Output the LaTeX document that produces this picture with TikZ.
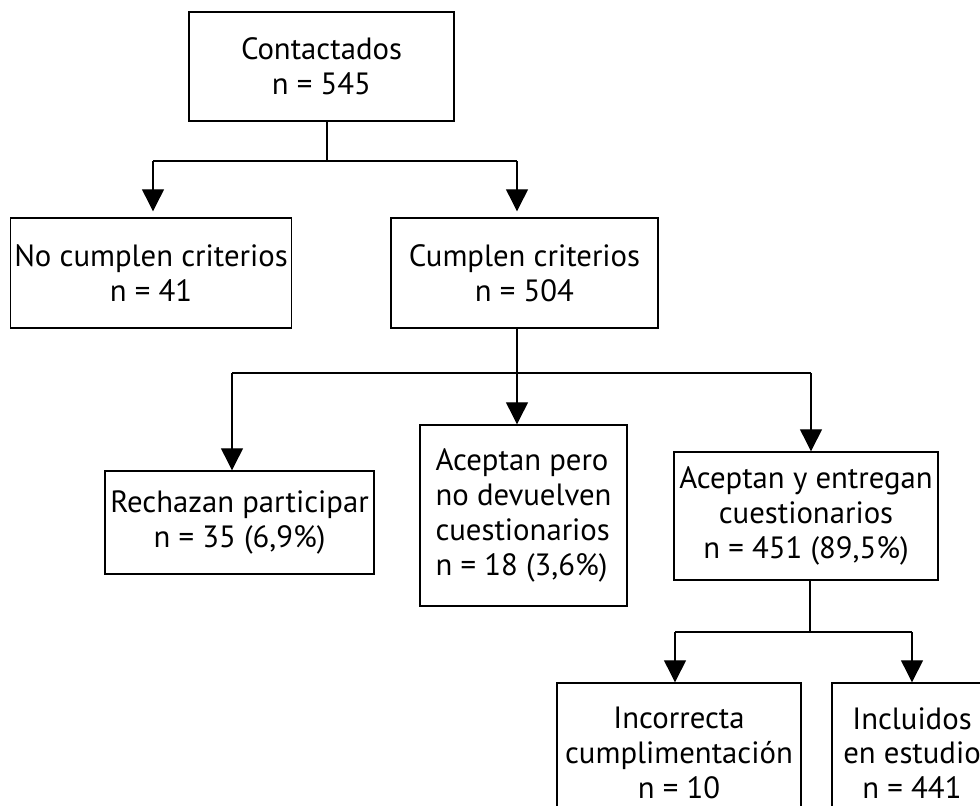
\documentclass[tikz,border=0pt]{standalone}
\usepackage{fontspec}
\setmainfont{PT Sans}
\usetikzlibrary{arrows.meta,positioning}

\begin{document}
\begin{tikzpicture}[x=0.2mm,y=-0.2mm]
\tikzset{
  flowbox/.style={rectangle,draw=black,line width=0.8pt,inner sep=2pt,align=center,
    font=\fontsize{17.5}{19.8}\selectfont},
  flowedge/.style={draw=black,line width=0.7pt,line join=miter},
  directed/.style={flowedge,-{Triangle[length=4.4mm,width=4.4mm]}}
}
\clip (0,0) rectangle (980,805);
\node[flowbox,minimum width=53mm,minimum height=21.8mm] (n_contact) at (321.5,66.5) {Contactados\\n = 545};
\node[flowbox,minimum width=56mm,minimum height=22mm] (n_nocumple) at (151,273) {No cumplen criterios\\n = 41};
\node[flowbox,minimum width=53.4mm,minimum height=22mm] (n_cumple) at (524.5,273) {Cumplen criterios\\n = 504};
\node[flowbox,minimum width=53.8mm,minimum height=20.6mm] (n_rechazan) at (239.5,522.5) {Rechazan participar\\n = 35 (6,9\%)};
\node[flowbox,align=left,minimum width=41.4mm,minimum height=36.2mm] (n_nodevuelven) at (523.5,515.5) {Aceptan pero\\no devuelven\\cuestionarios\\n = 18 (3,6\%)};
\node[flowbox,minimum width=52.8mm,minimum height=25.6mm] (n_entregan) at (806,516) {Aceptan y entregan\\cuestionarios\\n = 451 (89,5\%)};
\node[flowbox,minimum width=48.8mm,minimum height=28mm] (n_incorrecta) at (679,753) {Incorrecta\\cumplimentación\\n = 10};
\node[flowbox,minimum width=32mm,minimum height=28mm] (n_incluidos) at (912,753) {Incluidos\\en estudio\\n = 441};
% junctions
\coordinate (j_contact) at (327,161);
\coordinate (j_no) at (153,161);
\coordinate (j_si) at (517,161);
\coordinate (j_cumple) at (517,373);
\coordinate (j_rech) at (232,373);
\coordinate (j_entr) at (811,373);
\coordinate (j_entregan) at (810,632);
\coordinate (j_inc) at (675,632);
\coordinate (j_incl) at (912,632);
\draw[flowedge] (n_contact.south -| j_contact) -- (j_contact);
\draw[flowedge] (j_no) -- (j_si);
\draw[directed,shorten >=1.2mm] (j_no) -- (j_no |- n_nocumple.north);
\draw[directed,shorten >=1.2mm] (j_si) -- (j_si |- n_cumple.north);
\draw[directed] (n_cumple.south -| j_cumple) -- (j_cumple |- n_nodevuelven.north);
\draw[flowedge] (j_rech) -- (j_entr);
\draw[directed] (j_rech) -- (j_rech |- n_rechazan.north);
\draw[directed] (j_entr) -- (j_entr |- n_entregan.north);
\draw[flowedge] (n_entregan.south -| j_entregan) -- (j_entregan);
\draw[flowedge] (j_inc) -- (j_incl);
\draw[directed] (j_inc) -- (j_inc |- n_incorrecta.north);
\draw[directed] (j_incl) -- (j_incl |- n_incluidos.north);
\end{tikzpicture}
\end{document}
